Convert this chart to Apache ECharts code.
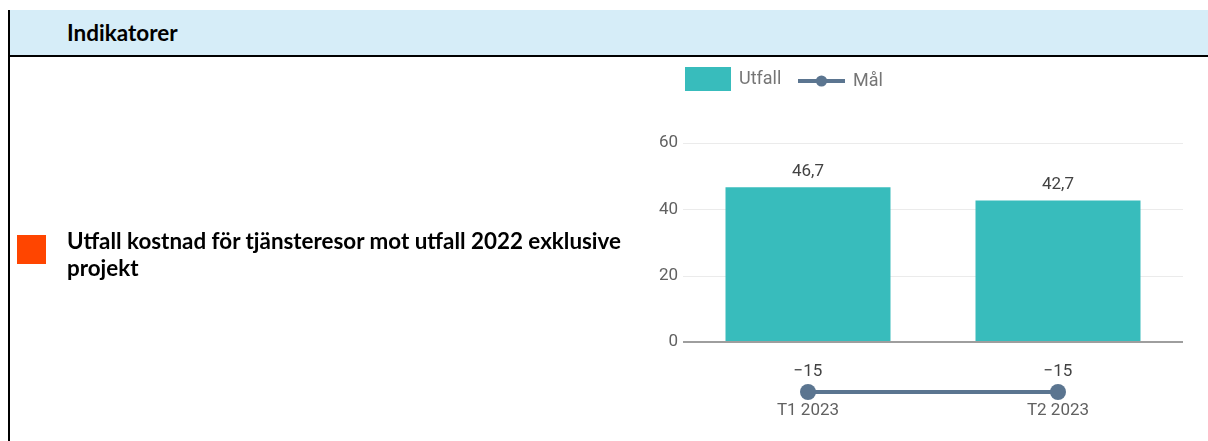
<!DOCTYPE html>
<html>
<head>
<meta charset="utf-8">
<script src="https://cdn.jsdelivr.net/npm/echarts@6/dist/echarts.min.js"></script>
<style>
  html, body { margin: 0; padding: 0; width: 1208px; height: 441px; background: #fff; overflow: hidden; }
  #chart { position: absolute; left: 0; top: 0; width: 1208px; height: 441px; }
  #header { position: absolute; left: 8px; top: 10px; width: 1200px; height: 45px; background: #d6edf8; border-bottom: 2px solid #000; box-sizing: content-box; }
  #header span { position: absolute; left: 59px; top: 10px; font-family: Lato, "Open Sans", sans-serif; font-weight: 700; font-size: 22.5px; line-height: 26px; color: #000; }
  #vline { position: absolute; left: 8px; top: 10px; width: 2px; height: 431px; background: #000; }
  #swatch { position: absolute; left: 17px; top: 235px; width: 29px; height: 29px; background: #ff4500; }
  #label { position: absolute; left: 67px; top: 227px; font-family: Lato, "Open Sans", sans-serif; font-weight: 700; font-size: 22.4px; line-height: 27px; color: #000; white-space: nowrap; }
</style>
</head>
<body>
<div id="chart"></div>
<div id="header"><span>Indikatorer</span></div>
<div id="vline"></div>
<div id="swatch"></div>
<div id="label">Utfall kostnad för tjänsteresor mot utfall 2022 exklusive<br>projekt</div>
<script>
const categories = ['T1 2023', 'T2 2023'];
const utfall = [46.7, 42.7];
const mal = [-15, -15];
const yTickLabels = [0, 20, 40, 60];

const fmt = v => String(v).replace('.', ',').replace('-', '\u2212');

const chart = echarts.init(document.getElementById('chart'));
chart.setOption({
  animation: false,
  textStyle: { fontFamily: 'Roboto' },
  legend: [
    { data: [{ name: 'Utfall', icon: 'rect' }], left: 685, top: 67, padding: 0, itemWidth: 46, itemHeight: 24, itemGap: 0,
      textStyle: { fontSize: 18, color: '#757575', fontFamily: 'Roboto', padding: [0, 0, 0, 3] } },
    { data: ['Mål'], left: 796, top: 72, padding: 0, itemWidth: 47, itemHeight: 14,
      lineStyle: { width: 4 },
      textStyle: { fontSize: 18, color: '#757575', fontFamily: 'Roboto', padding: [0, 0, 0, 3] } }
  ],
  grid: { left: 683, right: 25, top: 143, bottom: 49, containLabel: false },
  xAxis: {
    type: 'category',
    data: categories,
    axisLine: { show: false },
    axisTick: { show: false },
    axisLabel: { color: '#616161', fontSize: 17, margin: 10, fontFamily: 'Roboto' }
  },
  yAxis: {
    type: 'value',
    min: -15, max: 60, interval: 5,
    axisLine: { show: false },
    axisTick: { show: false },
    axisLabel: {
      color: '#616161', fontSize: 17, margin: 5, fontFamily: 'Roboto',
      formatter: v => yTickLabels.indexOf(v) >= 0 ? String(v) : ''
    },
    splitLine: {
      show: true,
      lineStyle: { width: 1, color: ['rgba(0,0,0,0)', 'rgba(0,0,0,0)', 'rgba(0,0,0,0)', '#ebebeb'] }
    }
  },
  series: [
    {
      name: 'Utfall', type: 'bar', data: utfall, barCategoryGap: '34%',
      itemStyle: { color: '#38bcbc' },
      label: { show: true, position: 'top', distance: 7, color: '#424242', fontSize: 17, fontFamily: 'Roboto', formatter: p => fmt(p.value) },
      markLine: {
        silent: true, symbol: 'none', label: { show: false },
        lineStyle: { color: '#9e9e9e', width: 2, type: 'solid' },
        data: [{ yAxis: 0 }]
      }
    },
    {
      name: 'Mål', type: 'line', data: mal,
      symbol: 'circle', symbolSize: 16,
      lineStyle: { color: '#5b7590', width: 4 },
      itemStyle: { color: '#5b7590' },
      label: { show: true, position: 'top', distance: 4, color: '#424242', fontSize: 17, fontFamily: 'Roboto', formatter: p => fmt(p.value) }
    }
  ]
});
</script>
</body>
</html>
